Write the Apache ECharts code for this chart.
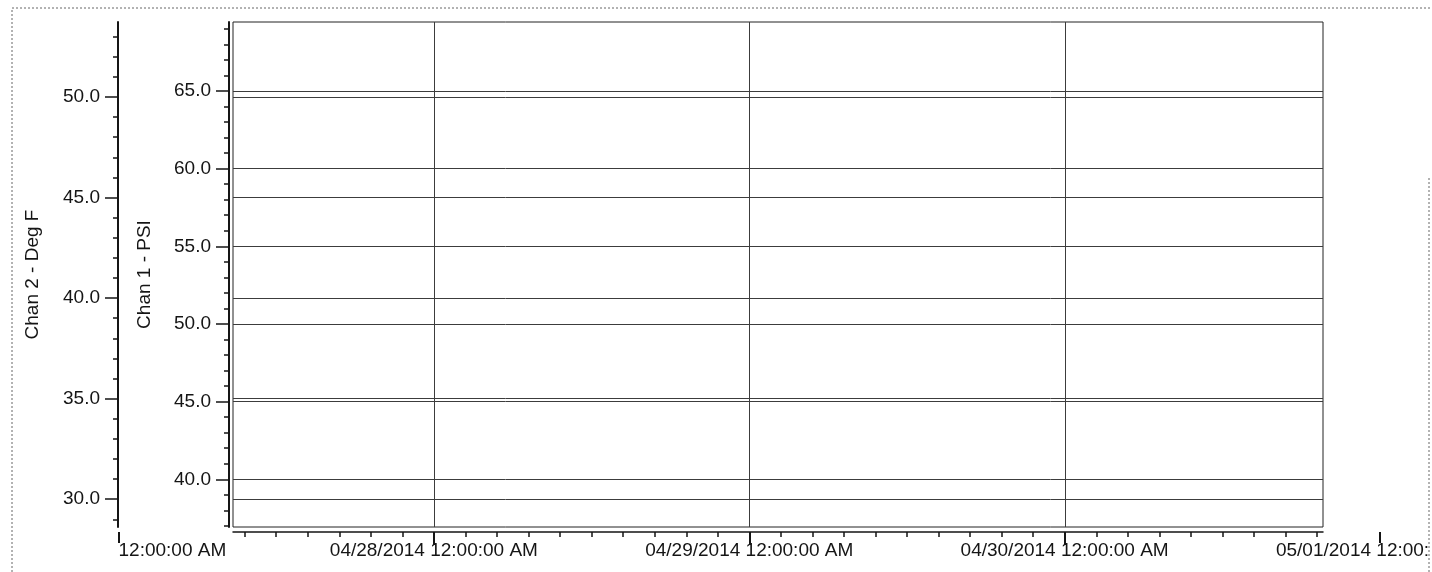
<!DOCTYPE html>
<html>
<head>
<meta charset="utf-8">
<script src="https://cdn.jsdelivr.net/npm/echarts@6/dist/echarts.min.js"></script>
<style>
  html, body { margin: 0; padding: 0; background: #fff; }
  #chart { width: 1432px; height: 572px; }
</style>
</head>
<body>
<div id="chart"></div>
<script>
// Time is measured in hours from 04/27/2014 12:00:00 AM
const timeWindow = [8.71, 91.65];          // span shown inside the plot frame
const dayTicks = [0, 24, 48, 72, 96];
const dateLabels = ['', '04/28/2014', '04/29/2014', '04/30/2014', '05/01/2014'];
const timeLabel = '12:00:00 AM';
const minorHourStep = 2.4;

// Chan 1 - PSI scale
const psiRange = [36.93, 69.44];
const psiTicks = [40, 45, 50, 55, 60, 65];

// Chan 2 - Deg F scale
const degRange = [28.62, 53.73];
const degTicks = [30, 35, 40, 45, 50];

const FONT = '"Liberation Sans", Arial, Helvetica, sans-serif';
const INK = '#151515';
const GRID_INK = '#3c3c3c';

function unitSteps(lo, hi, step) {
  const out = [];
  const start = Math.ceil(lo / step - 1e-9);
  const end = Math.floor(hi / step + 1e-9);
  for (let i = start; i <= end; i++) out.push(+(i * step).toFixed(4));
  return out;
}

const innerDays = dayTicks.filter(h => h > timeWindow[0] && h < timeWindow[1]);
const hourMinor = unitSteps(timeWindow[0], timeWindow[1], minorHourStep)
  .filter(h => innerDays.every(d => Math.abs(d - h) > 1e-6));
const psiMinor = unitSteps(psiRange[0], psiRange[1], 1);
const degMinor = unitSteps(degRange[0], degRange[1], 1);

const labelText = { fontFamily: FONT, fontSize: 19, color: INK };

function majorY(range, ticks, offset, name, nameGap) {
  return {
    type: 'value', gridIndex: 0, position: 'left', offset: offset,
    min: range[0], max: range[1],
    name: name, nameLocation: 'middle', nameRotate: 90, nameGap: nameGap,
    nameTextStyle: labelText,
    axisLine: { show: true, lineStyle: { color: INK, width: 2 } },
    axisTick: { show: true, length: 13, customValues: ticks, lineStyle: { color: INK, width: 1.5 } },
    axisLabel: Object.assign({ customValues: ticks, margin: 18,
      formatter: v => Number(v).toFixed(1) }, labelText),
    splitLine: { show: true, lineStyle: { color: GRID_INK, width: 1 } }
  };
}

function minorY(range, ticks, offset) {
  return {
    type: 'value', gridIndex: 0, position: 'left', offset: offset,
    min: range[0], max: range[1],
    axisLine: { show: false },
    axisTick: { show: true, length: 5, customValues: ticks, lineStyle: { color: INK, width: 1.5 } },
    axisLabel: { show: false },
    splitLine: { show: false }
  };
}

const chart = echarts.init(document.getElementById('chart'), null, { renderer: 'canvas' });

chart.setOption({
  animation: false,
  backgroundColor: '#fff',
  grid: [
    { left: 233, right: 109, top: 22, bottom: 45, show: true,
      outerBoundsMode: 'none', containLabel: false,
      borderColor: '#222', borderWidth: 1, backgroundColor: 'transparent' },
    { left: 118.5, right: 52, top: 22, bottom: 40, show: false,
      outerBoundsMode: 'none', containLabel: false }
  ],
  xAxis: [
    { // day gridlines and long ticks
      type: 'value', gridIndex: 0, position: 'bottom', offset: 5,
      min: timeWindow[0], max: timeWindow[1],
      axisLine: { show: true, lineStyle: { color: INK, width: 1.5 } },
      axisTick: { show: true, length: 13, customValues: innerDays, lineStyle: { color: INK, width: 2 } },
      axisLabel: { show: false },
      splitLine: { show: true, lineStyle: { color: GRID_INK, width: 1 } }
    },
    { // 2.4 hour ticks
      type: 'value', gridIndex: 0, position: 'bottom', offset: 5,
      min: timeWindow[0], max: timeWindow[1],
      axisLine: { show: false },
      axisTick: { show: true, length: 5, customValues: hourMinor, lineStyle: { color: INK, width: 1.5 } },
      axisLabel: { show: false },
      splitLine: { show: false }
    },
    { // date / time labels spanning the full four days
      type: 'value', gridIndex: 1, position: 'bottom', offset: 0,
      min: dayTicks[0], max: dayTicks[dayTicks.length - 1],
      axisLine: { show: false },
      axisTick: { show: true, length: 11,
        customValues: [dayTicks[0], dayTicks[dayTicks.length - 1]],
        lineStyle: { color: INK, width: 2 } },
      axisLabel: Object.assign({
        customValues: dayTicks, margin: 9, alignMinLabel: 'left',
        formatter: v => {
          const d = dateLabels[Math.round(v / 24)];
          return d ? d + ' ' + timeLabel : timeLabel;
        }
      }, labelText),
      splitLine: { show: false }
    }
  ],
  yAxis: [
    majorY(psiRange, psiTicks, 4, 'Chan 1 - PSI', 75),
    minorY(psiRange, psiMinor, 4),
    majorY(degRange, degTicks, 115, 'Chan 2 - Deg F', 76),
    minorY(degRange, degMinor, 115),
    { // companion axis for the label row, not drawn
      type: 'value', gridIndex: 1, show: false, min: 0, max: 1,
      axisLine: { show: false }, axisTick: { show: false },
      axisLabel: { show: false }, splitLine: { show: false }
    }
  ],
  series: [],
  graphic: [
    { type: 'rect', silent: true, z: 100,
      shape: { x: 1430, y: 0, width: 10, height: 572 },
      style: { fill: '#fff' } },
    { type: 'polyline', silent: true, z: 101,
      shape: { points: [[12, 580], [12, 8], [1430, 8]] },
      style: { stroke: '#666', lineWidth: 1, lineDash: [2, 2], fill: null } },
    { type: 'line', silent: true, z: 101,
      shape: { x1: 1429, y1: 178, x2: 1429, y2: 580 },
      style: { stroke: '#666', lineWidth: 1, lineDash: [2, 2] } }
  ]
});
</script>
</body>
</html>
